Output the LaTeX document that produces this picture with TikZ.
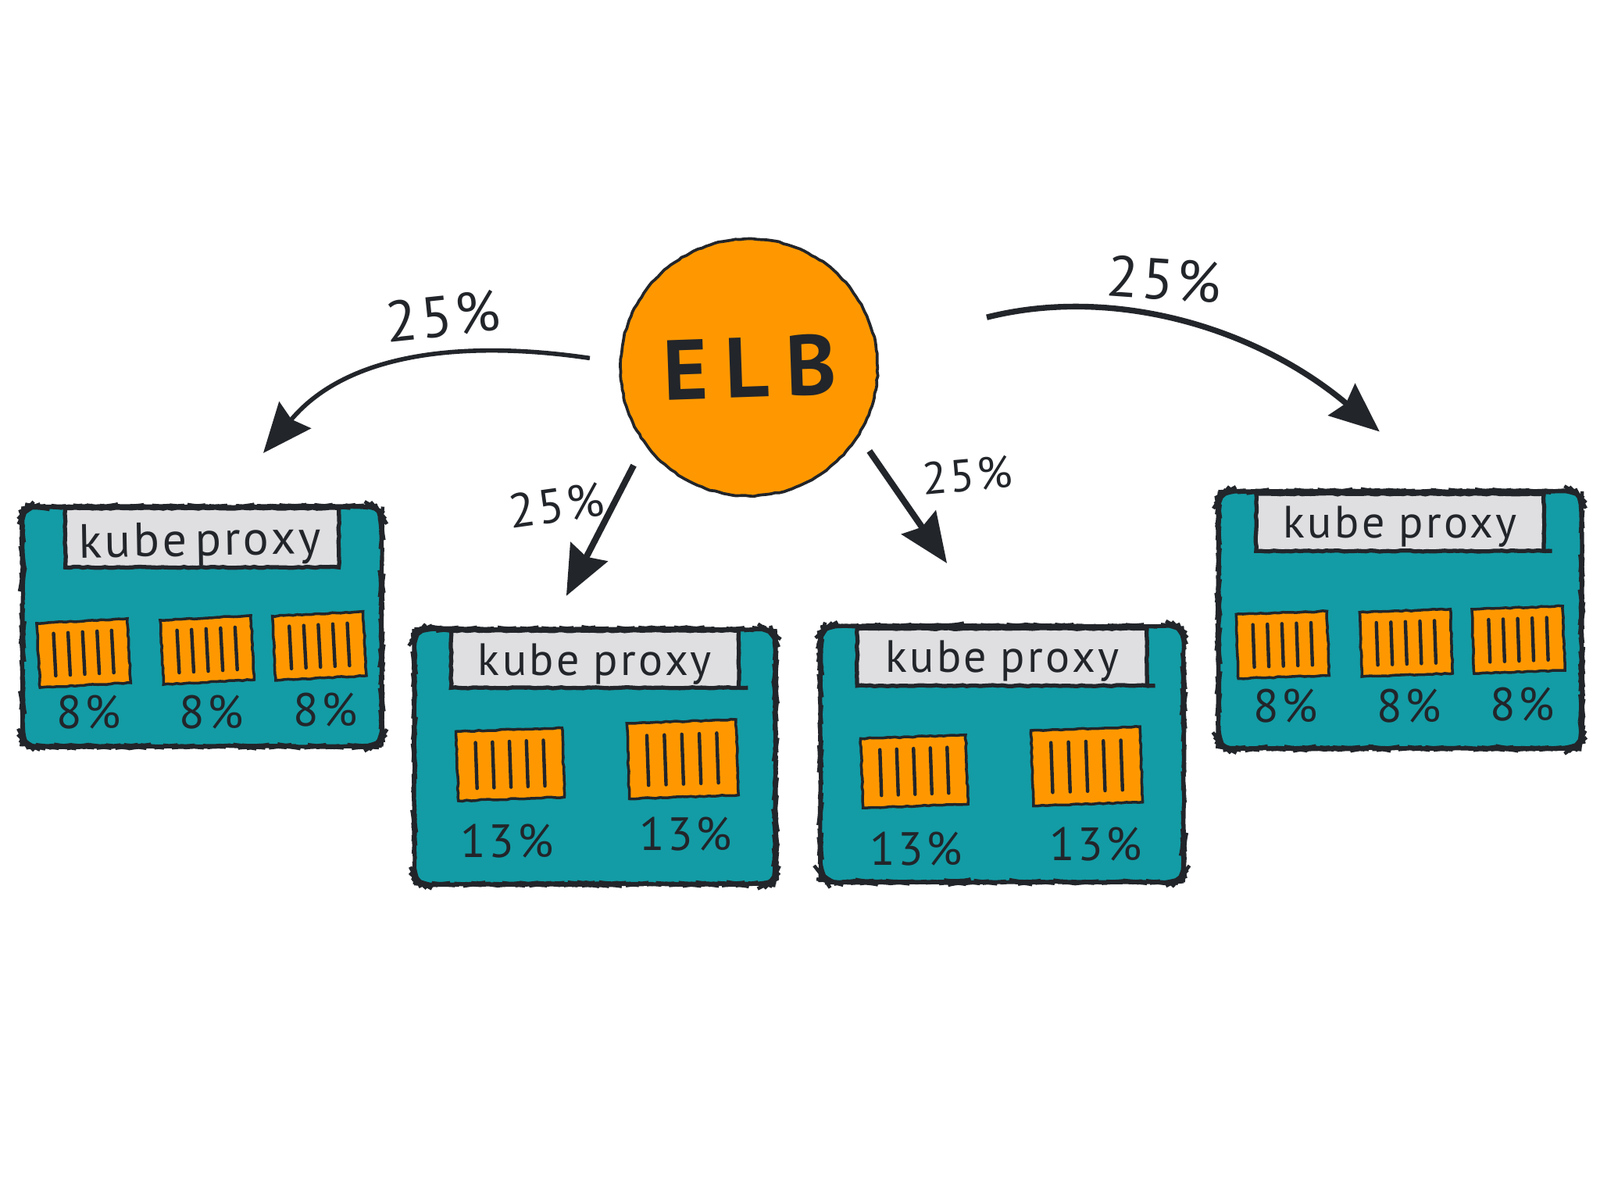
\documentclass[tikz,border=0pt]{standalone}
\usepackage{fontspec}
\setmainfont{PT Sans}
\newfontfamily\hand{PT Sans}[LetterSpace=6]
\usetikzlibrary{arrows.meta,calc,decorations.pathmorphing}
\definecolor{ink}{HTML}{22252A}
\definecolor{teal2}{HTML}{139CA5}
\definecolor{orange2}{HTML}{FF9800}
\definecolor{label2}{HTML}{DFDFE1}
\tikzset{
  rough/.style={decorate,decoration={random steps,segment length=1.6pt,amplitude=.2pt}},
  kbox/.style={rectangle,draw=ink,fill=teal2,line width=1.25pt,rounded corners=5pt,rough,outer sep=0pt,inner sep=0pt},
  klabel/.style={rectangle,draw=ink,fill=label2,line width=1.5pt,rough,outer sep=0pt,inner sep=0pt},
  ktext/.style={text=ink,inner sep=0pt,font=\hand\fontsize{16.5}{20}\selectfont},
  crate/.style={rectangle,draw=ink,fill=orange2,line width=1pt,rough,outer sep=0pt,inner sep=0pt},
  cbar/.style={draw=ink,line width=1.25pt,line cap=round},
  pct/.style={text=ink,inner sep=0pt,font=\hand\fontsize{17}{20}\selectfont},
  arrowpct/.style={text=ink,inner sep=0pt,font=\hand\fontsize{21}{24}\selectfont},
  elbnode/.style={circle,draw=ink,fill=orange2,line width=1.05pt,rough,inner sep=0pt,outer sep=0pt,minimum size=252*.3716pt},
  flow/.style={draw=ink,line width=2.3pt,-{Stealth[length=18pt,width=15pt,inset=2pt]}},
  underline/.style={draw=ink,line width=1.5pt,rough}
}
\newcommand{\boxsized}[5]{\node[kbox,minimum width=#4*.3716pt,minimum height=#5*.3716pt] (#1) at (#2,#3) {};}
\newcommand{\labsized}[5]{\node[klabel,minimum width=#4*.3716pt,minimum height=#5*.3716pt] (#1) at (#2,#3) {};}
\newcommand{\crateat}[6]{%
  \node[crate,minimum width=#4*.3716pt,minimum height=#5*.3716pt,rotate=#6] (#1) at (#2,#3) {};
  \foreach \t in {.18,.34,.5,.66,.82}{
    \coordinate (tt) at ($(#1.north west)!\t!(#1.north east)$);
    \coordinate (bb) at ($(#1.south west)!\t!(#1.south east)$);
    \draw[cbar] ($(tt)!.17!(bb)$) -- ($(tt)!.83!(bb)$);
  }}
\begin{document}
\begin{tikzpicture}[x=0.013061cm,y=-0.013061cm]
\useasboundingbox[fill=white] (0,0) rectangle (1568,1176);

% ELB
\node[elbnode] (elb) at (734,360) {};
\node[text=ink,inner sep=0pt,font=\bfseries\fontsize{31}{34}\selectfont\addfontfeatures{LetterSpace=20},rotate=2] (elbt) at (735,360) {ELB};

% Box 1
\boxsized{b1}{198}{614}{352}{235}
\labsized{l1}{198}{527}{268}{58}
\node[ktext,font=\hand\fontsize{17.5}{20}\selectfont,rotate=1] (k1) at (196,533) {kube\hspace{3pt}proxy};
\crateat{c11}{82}{640}{89}{63}{3}
\crateat{c12}{203}{637}{89}{63}{3}
\crateat{c13}{313}{633}{89}{63}{3}
\node[pct] (p11) at (87,698) {8\%};
\node[pct] (p12) at (207,698) {8\%};
\node[pct] (p13) at (319,696) {8\%};

% Box 2
\boxsized{b2}{583}{741.5}{354}{250}
\labsized{l2}{583}{646}{282}{56}
\draw[underline] (l2.south east) -- ++(9,0);
\node[ktext] (k2) at (583,651) {kube\hspace{5pt}proxy};
\crateat{c21}{500}{749}{104}{68}{2}
\crateat{c22}{669}{744}{107}{74}{2}
\node[pct] (p21) at (497,824) {13\%};
\node[pct] (p22) at (672,817) {13\%};

% Box 3
\boxsized{b3}{982}{739}{356}{251}
\labsized{l3}{982}{644}{284}{56}
\draw[underline] (l3.south east) -- ++(8,0);
\node[ktext] (k3) at (982,648) {kube\hspace{5pt}proxy};
\crateat{c31}{896}{756}{103}{68}{2}
\crateat{c32}{1065}{751}{107}{74}{2}
\node[pct] (p31) at (898,832) {13\%};
\node[pct] (p32) at (1074,827) {13\%};

% Box 4
\boxsized{b4}{1372}{607.5}{356}{252}
\labsized{l4}{1372}{512}{282}{56}
\draw[underline] (l4.south east) -- ++(8,0);
\node[ktext] (k4) at (1372,516) {kube\hspace{5pt}proxy};
\crateat{c41}{1257}{632}{89}{63}{2}
\crateat{c42}{1378}{630}{89}{63}{2}
\crateat{c43}{1488}{627}{89}{63}{2}
\node[pct] (p41) at (1260,692) {8\%};
\node[pct] (p42) at (1381,692) {8\%};
\node[pct] (p43) at (1492,690) {8\%};

% Arrow ends
\coordinate (a1s) at (578,351);
\coordinate (a1e) at (258,444);
\coordinate (a2s) at (621,456);
\coordinate (a2e) at (555,584);
\coordinate (a3s) at (852,442);
\coordinate (a3e) at (928,552);
\coordinate (a4s) at (967,311);
\coordinate (a4e) at (1352,423);

\draw[flow,line width=1.6pt] (a1s) .. controls (470,335) and (345,340) .. (a1e);
\draw[flow] (a2s) -- (a2e);
\draw[flow] (a3s) -- (a3e);
\draw[flow,line width=2.1pt] (a4s) .. controls (1090,280) and (1230,320) .. (a4e);

\node[arrowpct,rotate=6] (t1) at (434,310) {25\%};
\node[arrowpct,rotate=8,font=\hand\fontsize{17.5}{20}\selectfont] (t2) at (545,495) {25\%};
\node[arrowpct,rotate=5,font=\hand\fontsize{16.5}{20}\selectfont] (t3) at (948,466) {25\%};
\node[arrowpct,rotate=-4] (t4) at (1141,274) {25\%};
\end{tikzpicture}
\end{document}
